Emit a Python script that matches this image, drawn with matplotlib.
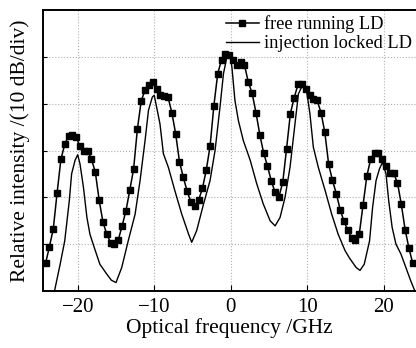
import numpy as np
import matplotlib
matplotlib.use('Agg')
import matplotlib.pyplot as plt

# --- Datos (x en GHz, y en divisiones de 10 dB) ---
free_x = [-24.2, -23.7, -23.2, -22.7, -22.2, -21.7, -21.2, -20.7, -20.2, -19.7,
          -19.2, -18.7, -18.2, -17.7, -17.2, -16.7, -16.2, -15.7, -15.2, -14.7,
          -14.2, -13.7, -13.2, -12.7, -12.2, -11.7, -11.2, -10.7, -10.2, -9.7,
          -9.2, -8.7, -8.2, -7.7, -7.2, -6.7, -6.2, -5.7, -5.2, -4.7,
          -4.2, -3.7, -3.2, -2.7, -2.2, -1.7, -1.2, -0.7, -0.2, 0.3,
          0.8, 1.3, 1.8, 2.3, 2.8, 3.3, 3.8, 4.3, 4.8, 5.3,
          5.8, 6.3, 6.8, 7.3, 7.8, 8.3, 8.8, 9.3, 9.8, 10.3,
          10.8, 11.3, 11.8, 12.3, 12.8, 13.3, 13.8, 14.3, 14.8, 15.3,
          15.8, 16.3, 16.8, 17.3, 17.8, 18.3, 18.8, 19.3, 19.8, 20.3,
          20.8, 21.3, 21.8, 22.3, 22.8, 23.3, 23.8]
free_y = [0.59, 0.95, 1.32, 2.09, 2.81, 3.13, 3.31, 3.34, 3.28, 3.09,
          2.99, 2.99, 2.81, 2.54, 1.94, 1.47, 1.21, 1.03, 1.01, 1.09,
          1.39, 1.71, 2.15, 2.60, 3.46, 4.06, 4.29, 4.40, 4.46, 4.32,
          4.19, 4.16, 4.14, 3.81, 3.36, 2.76, 2.43, 2.13, 1.90, 1.81,
          1.94, 2.19, 2.58, 3.09, 3.96, 4.64, 4.94, 5.06, 5.04, 4.93,
          4.82, 4.89, 4.82, 4.46, 4.22, 3.81, 3.34, 2.95, 2.67, 2.35,
          2.11, 2.01, 2.32, 3.04, 3.79, 4.13, 4.41, 4.42, 4.32, 4.18,
          4.11, 4.07, 3.81, 3.39, 2.71, 2.36, 2.08, 1.74, 1.49, 1.30,
          1.14, 1.09, 1.21, 1.84, 2.46, 2.82, 2.95, 2.95, 2.81, 2.67,
          2.53, 2.51, 2.31, 1.85, 1.31, 0.91, 0.59]

inj_x = [-23.1, -22.3, -21.7, -21.1, -20.8, -20.35, -20.0, -19.7, -19.25, -18.8,
         -18.4, -17.7, -17.1, -16.2, -15.6, -15.0, -14.25, -13.4, -12.5, -11.85,
         -11.2, -10.75, -10.25, -10.0, -9.25, -8.8, -8.15, -7.3, -6.4, -5.5,
         -5.1, -4.45, -3.55, -2.7, -2.05, -1.4, -0.95, -0.5, -0.15, 0.15,
         0.55, 1.0, 1.65, 2.55, 3.4, 4.25, 5.15, 5.8, 6.45, 7.1,
         7.75, 8.4, 8.85, 9.4, 9.9, 10.35, 10.8, 11.45, 12.35, 13.2,
         14.05, 14.95, 15.5, 16.4, 16.9, 17.45, 18.15, 18.55, 19.0, 19.45,
         19.85, 20.3, 20.65, 21.1, 21.6, 22.25, 22.9, 23.55, 24.25]
inj_y = [-0.05, 0.57, 1.07, 1.93, 2.50, 2.79, 2.91, 2.71, 2.21, 1.57,
         1.21, 0.86, 0.57, 0.36, 0.23, 0.18, 0.50, 1.07, 1.64, 2.36,
         3.21, 3.86, 4.14, 4.18, 3.57, 2.93, 2.64, 2.14, 1.64, 1.21,
         1.04, 1.29, 1.86, 2.36, 3.00, 3.93, 4.64, 5.00, 5.07, 4.79,
         4.07, 3.64, 3.21, 2.79, 2.29, 1.86, 1.50, 1.39, 1.57, 2.00,
         2.64, 3.57, 4.21, 4.40, 4.29, 3.79, 3.07, 2.64, 2.14, 1.64,
         1.21, 0.86, 0.71, 0.50, 0.44, 0.57, 1.07, 1.79, 2.36, 2.61,
         2.75, 2.50, 1.93, 1.36, 1.00, 0.79, 0.50, 0.21, -0.07]

x_ticks = [-20, -10, 0, 10, 20]
y_grid = [1, 2, 3, 4, 5]

plt.rcParams['font.family'] = ['Liberation Serif', 'DejaVu Serif']
plt.rcParams['axes.unicode_minus'] = True

fig = plt.figure(figsize=(4.16, 3.48), dpi=100)
ax = fig.add_axes([43 / 416, 57 / 348, 373 / 416, 281 / 348])

ax.plot(free_x, free_y, color='black', lw=1.1, marker='s', markersize=3.8,
        label='free running LD')
ax.plot(inj_x, inj_y, color='black', lw=1.0, label='injection locked LD')

ax.set_xlim(-24.54, 24.22)
ax.set_ylim(0, 6)
ax.set_xticks(x_ticks)
ax.set_yticks(y_grid)
ax.set_yticklabels([])
ax.tick_params(axis='x', direction='in', length=4, labelsize=15, pad=5)
ax.tick_params(axis='y', direction='in', length=3)
ax.grid(True, color='#b0b0b0', linestyle=':', lw=0.8)

for s in ['left', 'top', 'bottom']:
    ax.spines[s].set_linewidth(1.4)
ax.spines['right'].set_visible(False)

ax.set_xlabel('Optical frequency /GHz', fontsize=15.5, labelpad=1)
ax.set_ylabel('Relative intensity /(10 dB/div)', fontsize=15.5, labelpad=6)

ax.legend(loc='upper right', bbox_to_anchor=(1.02, 1.02), frameon=False,
          fontsize=13.2, handlelength=1.8, handletextpad=0.3, labelspacing=0.12,
          borderaxespad=0.2)

fig.savefig('out.png', dpi=100)
